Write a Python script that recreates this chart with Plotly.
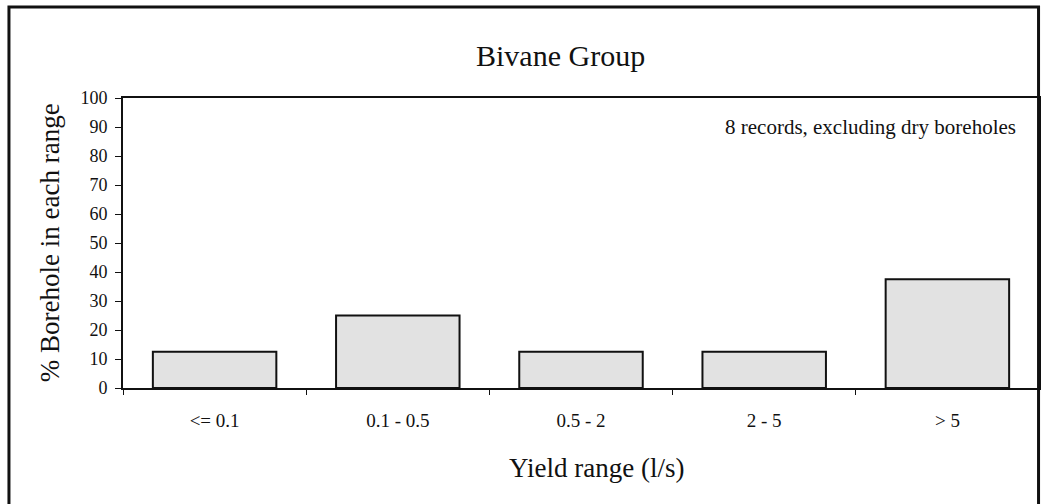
import plotly.graph_objects as go

categories = ["<= 0.1", "0.1 - 0.5", "0.5 - 2", "2 - 5", "> 5"]
percent_boreholes = [12.5, 25.0, 12.5, 12.5, 37.5]
y_ticks = list(range(0, 101, 10))
boundary_ticks = [0.5, 1.5, 2.5, 3.5]

FONT = "Liberation Serif, Times New Roman, serif"
INK = "#111111"

fig = go.Figure()
fig.add_trace(go.Bar(
    x=categories, y=percent_boreholes,
    marker=dict(color="#e2e2e2", line=dict(color=INK, width=2)),
    showlegend=False,
))

fig.update_layout(
    width=1042, height=504,
    margin=dict(l=123, r=1, t=98, b=116),
    paper_bgcolor="white", plot_bgcolor="white",
    bargap=0.326,
    font=dict(family=FONT, color=INK),
    xaxis=dict(
        type="category", categoryorder="array", categoryarray=categories,
        range=[-0.5, 4.5],
        showline=True, linecolor=INK, linewidth=2, mirror=True,
        showgrid=False, zeroline=False,
        tickson="boundaries", ticks="outside", ticklen=5, tickwidth=1, tickcolor=INK,
        ticklabelstandoff=14,
        tickfont=dict(family=FONT, size=19, color=INK),
    ),
    xaxis2=dict(
        overlaying="x", anchor="y", side="bottom", range=[-0.5, 4.5],
        tickmode="array", tickvals=boundary_ticks, showticklabels=False,
        ticks="inside", ticklen=5, tickwidth=1, tickcolor=INK,
        showgrid=False, zeroline=False, showline=False,
    ),
    yaxis=dict(
        range=[0, 100], tickmode="array", tickvals=y_ticks,
        showline=True, linecolor=INK, linewidth=2, mirror=True,
        showgrid=False, zeroline=False,
        ticks="outside", ticklen=6, tickwidth=1, tickcolor=INK,
        ticklabelstandoff=4,
        tickfont=dict(family=FONT, size=18, color=INK),
    ),
    yaxis2=dict(
        overlaying="y", anchor="x", side="left", range=[0, 100],
        tickmode="array", tickvals=y_ticks, showticklabels=False,
        ticks="inside", ticklen=5, tickwidth=1, tickcolor=INK,
        showgrid=False, zeroline=False, showline=False,
    ),
    annotations=[
        dict(text="Bivane Group", xref="paper", yref="paper", x=0.478, y=1.148,
             xanchor="center", yanchor="middle", showarrow=False,
             font=dict(family=FONT, size=30, color=INK)),
        dict(text="Yield range (l/s)", xref="paper", yref="paper", x=0.517, y=-0.276,
             xanchor="center", yanchor="middle", showarrow=False,
             font=dict(family=FONT, size=27, color=INK)),
        dict(text="% Borehole in each range", xref="paper", yref="paper", x=-0.0795, y=0.5,
             xanchor="center", yanchor="middle", textangle=-90, showarrow=False,
             font=dict(family=FONT, size=27, color=INK)),
        dict(text="8 records, excluding dry boreholes", xref="paper", yref="paper",
             x=0.977, y=0.9, xanchor="right", yanchor="middle", showarrow=False,
             font=dict(family=FONT, size=21, color=INK)),
    ],
    shapes=[dict(
        type="rect", xref="paper", yref="paper",
        x0=-0.1245, x1=0.9995, y0=-0.45, y1=1.314,
        line=dict(color=INK, width=3), fillcolor="rgba(0,0,0,0)", layer="above",
    )],
)

fig.write_html(
    "out.html",
    config={"displayModeBar": False},
    post_script="document.body.style.margin='0';document.body.style.overflow='hidden';",
)
